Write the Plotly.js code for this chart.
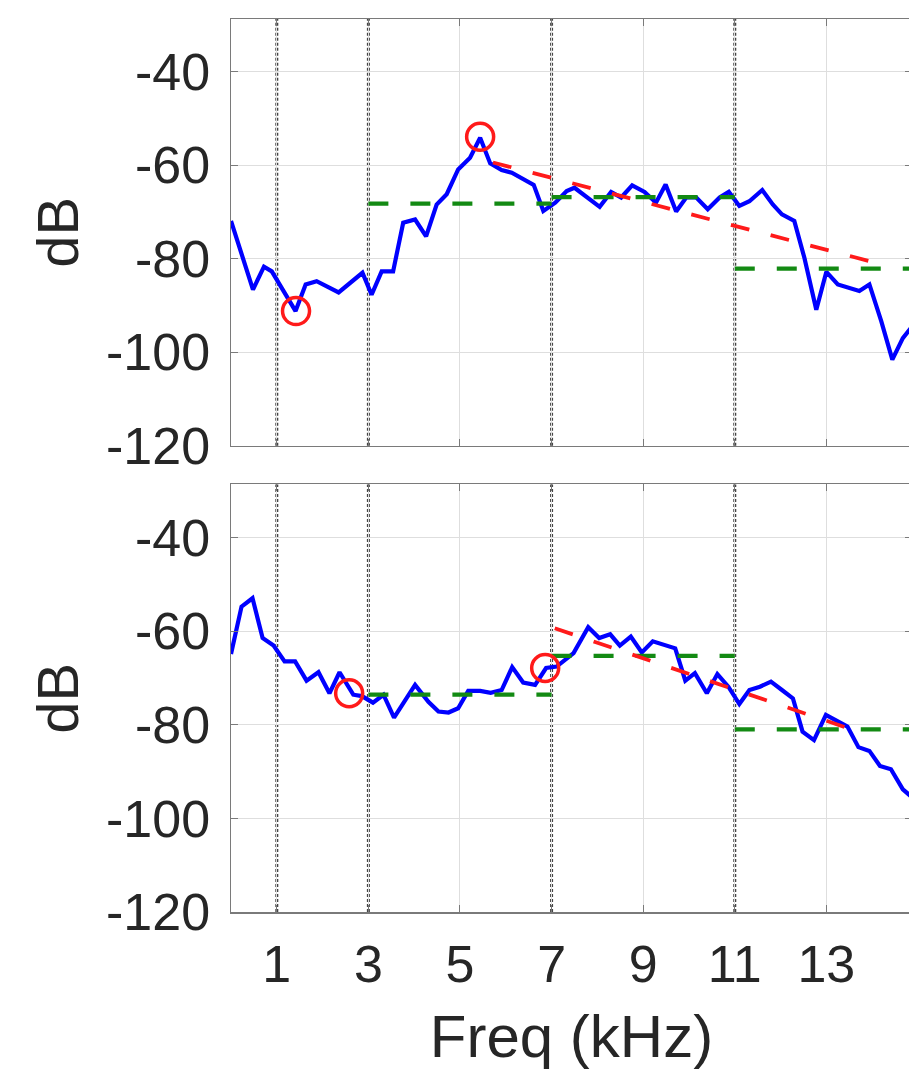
<!DOCTYPE html>
<html>
<head>
<meta charset="utf-8">
<script src="https://cdn.plot.ly/plotly-3.0.1.min.js"></script>
<style>
html,body{margin:0;padding:0;overflow:hidden;background:#fff;}
#chart{width:920px;height:1079px;}
</style>
</head>
<body>
<div id="chart"></div>
<script>
// ---- data ----
const freqTop = [0.00,0.48,0.72,0.89,1.41,1.63,1.87,2.35,2.87,3.07,3.29,3.54,3.76,4.02,4.26,4.49,4.71,4.96,5.22,5.44,5.66,5.91,6.13,6.61,6.82,7.08,7.33,7.50,8.05,8.30,8.52,8.76,9.03,9.28,9.49,9.72,9.94,10.16,10.41,10.67,10.87,11.10,11.32,11.60,11.83,12.03,12.30,12.52,12.78,13.00,13.25,13.72,13.94,14.20,14.44,14.67,14.87];
const dbTop   = [-71.9,-86.6,-81.7,-82.7,-91.2,-85.5,-84.8,-87.2,-83.0,-87.7,-82.7,-82.7,-72.3,-71.6,-75.2,-68.4,-66.2,-60.9,-58.4,-54.1,-59.6,-61.0,-61.6,-64.2,-69.8,-68.0,-65.5,-64.8,-68.9,-65.7,-66.9,-64.3,-65.7,-68.0,-64.1,-69.9,-66.9,-66.9,-69.4,-66.9,-65.7,-68.7,-67.7,-65.3,-68.4,-70.5,-71.9,-79.8,-90.9,-82.8,-85.5,-86.9,-85.5,-93.4,-101.6,-97.0,-94.5];

const freqBot = [0.00,0.23,0.47,0.69,0.93,1.17,1.40,1.65,1.91,2.15,2.37,2.67,2.86,3.10,3.33,3.56,4.02,4.31,4.53,4.75,4.96,5.18,5.44,5.67,5.91,6.14,6.38,6.64,6.88,7.11,7.48,7.80,8.04,8.28,8.49,8.73,8.97,9.21,9.70,9.92,10.13,10.39,10.62,10.86,11.10,11.32,11.55,11.79,12.03,12.27,12.48,12.73,12.99,13.23,13.46,13.70,13.94,14.17,14.41,14.67,14.87];
const dbBot   = [-64.9,-54.8,-53.0,-61.5,-63.1,-66.5,-66.5,-70.6,-68.8,-73.3,-68.8,-73.6,-73.9,-75.3,-73.6,-78.5,-71.5,-75.1,-77.2,-77.4,-76.5,-72.8,-72.8,-73.2,-72.6,-67.7,-71.0,-71.5,-67.9,-67.6,-64.7,-59.2,-61.5,-60.7,-63.1,-61.2,-64.6,-62.2,-63.7,-70.6,-69.0,-73.3,-69.2,-71.9,-75.6,-72.6,-71.9,-70.8,-72.6,-74.4,-81.5,-83.3,-77.9,-79.1,-80.4,-84.8,-85.6,-88.8,-89.5,-93.8,-95.5];

// band boundaries (dotted lines), kHz
const boundaries = [1, 3, 7, 11];
// green band-mean segments: start, end, level
const greenStart = [3, 7, 11];
const greenEnd   = [7, 11, 14.87];
const greenTop   = [-68.2, -66.8, -82.1];
const greenBot   = [-73.6, -65.3, -81.0];
// red slope lines: [x0, x1], [y0, y1]
const redTopX = [5.72, 13.94], redTopY = [-59.4, -80.5];
const redBotX = [7.07, 13.70], redBotY = [-59.4, -81.5];
// circled points
const circTopX = [1.42, 5.44], circTopY = [-91.2, -53.9];
const circBotX = [2.58, 6.86], circBotY = [-73.3, -67.9];

const xTicks = [1, 3, 5, 7, 9, 11, 13];
const xTickText = ['1', '3', '5', '7', '9', '11', '13'];
const yTicks = [-120, -100, -80, -60, -40];
const yTickText = ['-120', '-100', '-80', '-60', '-40'];
const xRange = [0, 14.87];
const yRange = [-120, -28.7];

// ---- build traces ----
const FONT = 'Liberation Sans, Arial, Helvetica, sans-serif';
const BLUE = '#0000ff', GREEN = '#138a13', RED = '#ff1a1a';
const traces = [];
function addPanel(xa, ya, fx, fy, gY, rX, rY, cX, cY) {
  traces.push({x: fx, y: fy, xaxis: xa, yaxis: ya, mode: 'lines', line: {color: BLUE, width: 4.2}, hoverinfo: 'skip'});
  for (let i = 0; i < greenStart.length; i++) {
    traces.push({x: [greenStart[i], greenEnd[i]], y: [gY[i], gY[i]], xaxis: xa, yaxis: ya, mode: 'lines',
      line: {color: GREEN, width: 4.2, dash: '20px,22px'}, hoverinfo: 'skip'});
  }
  traces.push({x: rX, y: rY, xaxis: xa, yaxis: ya, mode: 'lines', line: {color: RED, width: 3.8, dash: '19px,22px'}, hoverinfo: 'skip'});
  traces.push({x: cX, y: cY, xaxis: xa, yaxis: ya, mode: 'markers',
    marker: {symbol: 'circle-open', size: 27, color: RED, line: {color: RED, width: 3.5}}, hoverinfo: 'skip'});
}
addPanel('x', 'y', freqTop, dbTop, greenTop, redTopX, redTopY, circTopX, circTopY);
addPanel('x2', 'y2', freqBot, dbBot, greenBot, redBotX, redBotY, circBotX, circBotY);

const shapes = [];
[['x', 'y'], ['x2', 'y2']].forEach(([xa, ya]) => {
  boundaries.forEach(b => shapes.push({type: 'line', layer: 'below', xref: xa, yref: ya + ' domain',
    x0: b, x1: b, y0: 0, y1: 1, line: {color: '#444444', width: 3, dash: '3px,2px'}}));
});

const axisCommon = {
  showline: true, linecolor: '#7a7a7a', linewidth: 1.5, mirror: 'ticks',
  ticks: 'inside', ticklen: 7, tickwidth: 1, tickcolor: '#7a7a7a',
  showgrid: true, gridcolor: '#dedede', gridwidth: 1, zeroline: false,
  tickfont: {family: FONT, size: 52, color: '#262626'}
};

const layout = {
  width: 920, height: 1079,
  margin: {l: 231, r: 8, t: 19, b: 167},
  paper_bgcolor: '#ffffff', plot_bgcolor: '#ffffff',
  showlegend: false,
  font: {family: FONT, color: '#262626'},
  xaxis: Object.assign({}, axisCommon, {domain: [0, 1], range: xRange, tickvals: xTicks, showticklabels: false, anchor: 'y'}),
  yaxis: Object.assign({}, axisCommon, {domain: [0.5222, 1], range: yRange, tickvals: yTicks, ticktext: yTickText, anchor: 'x',
    ticklabelstandoff: 9,
    title: {text: 'dB', font: {family: FONT, size: 58, color: '#262626'}, standoff: 8}}),
  xaxis2: Object.assign({}, axisCommon, {domain: [0, 1], range: xRange, tickvals: xTicks, ticktext: xTickText, anchor: 'y2',
    ticklabelstandoff: 6,
    title: {text: 'Freq (kHz)', font: {family: FONT, size: 60, color: '#262626'}, standoff: 23}}),
  yaxis2: Object.assign({}, axisCommon, {domain: [0, 0.4788], range: yRange, tickvals: yTicks, ticktext: yTickText, anchor: 'x2',
    ticklabelstandoff: 9,
    title: {text: 'dB', font: {family: FONT, size: 58, color: '#262626'}, standoff: 8}}),
  shapes: shapes
};

Plotly.newPlot('chart', traces, layout, {staticPlot: true, displayModeBar: false});
</script>
</body>
</html>
